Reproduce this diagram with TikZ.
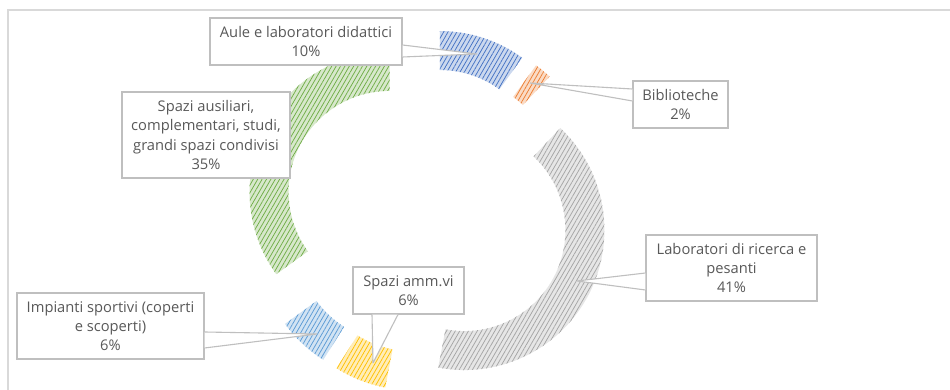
\documentclass[tikz,border=0pt]{standalone}
\usepackage{fontspec}
\setmainfont{Open Sans}
\usetikzlibrary{calc,patterns.meta}
\tikzset{>=latex}

\definecolor{blu}{HTML}{4472C4}
\definecolor{arancio}{HTML}{ED7D31}
\definecolor{grigio}{HTML}{A5A5A5}
\definecolor{oro}{HTML}{FFC000}
\definecolor{azzurro}{HTML}{5B9BD5}
\definecolor{verde}{HTML}{70AD47}
\definecolor{bordo}{HTML}{BFBFBF}
\definecolor{cornice}{HTML}{D9D9D9}
\definecolor{testo}{HTML}{595959}

\tikzset{
  fetta/.style={preaction={fill=#1!28}, pattern={Lines[angle=60,distance=3.8pt,line width=0.75pt]}, pattern color=#1},
  etichetta/.style={draw=bordo, fill=white, line width=1.1pt, align=center, text=testo, inner sep=0pt, font=\fontsize{14.7}{19.3}\selectfont},
  freccia/.style={draw=bordo, fill=white, line width=1.1pt, line join=bevel},
}

\begin{document}
\begin{tikzpicture}[x=1pt,y=1pt]
  \useasboundingbox (0,0) rectangle (950,390);
  % cornice del grafico
  \draw[cornice, line width=1.5pt] (8,0) -- (8,380) -- (950,380);
  \coordinate (c0) at (427,179); % centro della ciambella
  % fette: inizio/fine in gradi (orario, dall'alto) e colore
  \foreach \da/\a/\col in {0/36/blu, 36/43.2/arancio, 43.2/190.8/grigio, 190.8/212.4/oro, 212.4/234/azzurro, 234/360/verde}
  {
    \pgfmathsetmacro\bis{90-(\da+\a)/2}
    \path[fetta=\col] ($(c0)+(\bis:42)+(90-\da:140)$)
      arc[start angle=90-\da, end angle=90-\a, radius=140]
      -- ++(90-\a:-39)
      arc[start angle=90-\a, end angle=90-\da, radius=101] -- cycle;
  }

  % etichette
  \node[etichetta, minimum width=192pt, minimum height=47pt] (aule) at (306,348.5) {Aule e laboratori didattici\\10\%};
  \node[etichetta, minimum width=95pt, minimum height=47pt] (bibl) at (680.5,285.5) {Biblioteche\\2\%};
  \node[etichetta, minimum width=171pt, minimum height=66pt] (ricerca) at (731.5,122) {Laboratori di ricerca e\\pesanti\\41\%};
  \node[etichetta, minimum width=111pt, minimum height=47pt] (amm) at (408.5,99.5) {Spazi amm.vi\\6\%};
  \node[etichetta, minimum width=187pt, minimum height=66pt] (sport) at (110.5,64) {Impianti sportivi (coperti\\e scoperti)\\6\%};
  \node[etichetta, minimum width=168pt, minimum height=86pt] (ausil) at (206,255) {Spazi ausiliari,\\complementari, studi,\\grandi spazi condivisi\\35\%};

  % punte dei richiami
  \coordinate (p-aule) at (477,336);
  \coordinate (p-bibl) at (530,307);
  \coordinate (p-ricerca) at (577,109);
  \coordinate (p-amm) at (373,27);
  \coordinate (p-sport) at (317,56);

  \path[freccia] ([yshift=-3.5pt]aule.east) -- (p-aule) -- ([yshift=-15.5pt]aule.east);
  \path[freccia] ([yshift=15.5pt]bibl.west) -- (p-bibl) -- ([yshift=3.5pt]bibl.west);
  \path[freccia] ([yshift=-5pt]ricerca.west) -- (p-ricerca) -- ([yshift=-22pt]ricerca.west);
  \path[freccia] ([xshift=-36.5pt]amm.south) -- (p-amm) -- ([xshift=-10.5pt]amm.south);
  \path[freccia] ([yshift=-6pt]sport.east) -- (p-sport) -- ([yshift=-22pt]sport.east);
\end{tikzpicture}
\end{document}
